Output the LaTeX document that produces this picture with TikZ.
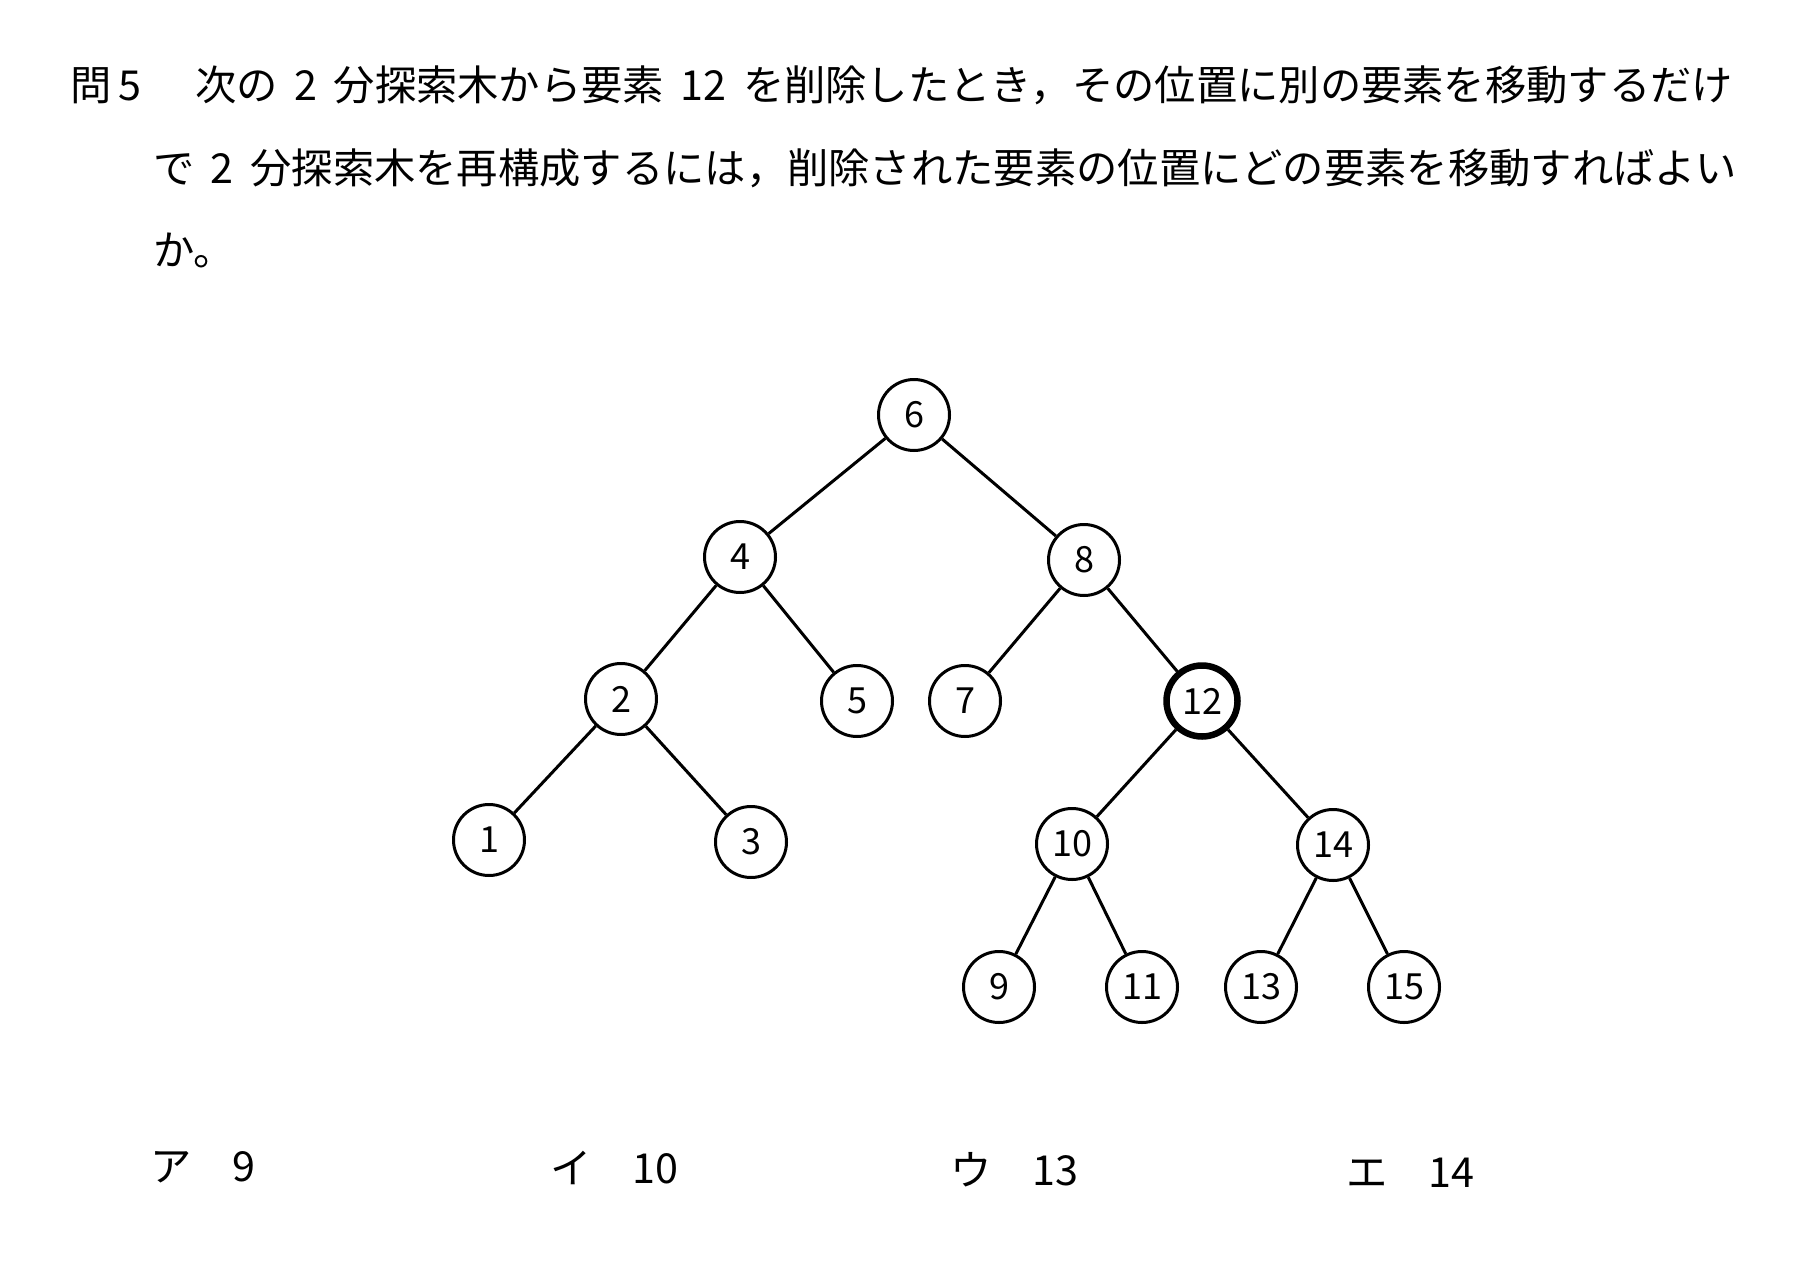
\documentclass[tikz,border=0pt]{standalone}
\usepackage{fontspec}
\newfontfamily\jpfont{Noto Sans CJK JP}
\usetikzlibrary{shapes}

\newcommand{\numgap}{\hspace{0.4em}}

\tikzset{
  elem/.style={draw,shape=circle,line width=3pt,minimum size=71pt,inner sep=0pt,
    font=\jpfont\fontsize{36}{36}\selectfont},
  removed/.style={elem,line width=6.5pt},
  link/.style={line width=3pt},
  sentence/.style={anchor=base west,inner sep=0pt,
    font=\jpfont\fontsize{41.3}{50}\selectfont},
}

\begin{document}
\begin{tikzpicture}[x=1pt,y=-1pt]
\useasboundingbox (0,0) rectangle (1809,1287);

% question
\node (qnum) at (70,101) [sentence] {問\hspace{0.18em}5};
\node (linea) at (195,101) [sentence] {次の\numgap 2\numgap 分探索木から要素\numgap 12\numgap を削除したとき，その位置に別の要素を移動するだけ};
\node (lineb) at (153,183) [sentence] {で\numgap 2\numgap 分探索木を再構成するには，削除された要素の位置にどの要素を移動すればよい};
\node (linec) at (153,265) [sentence] {か。};

% tree
\node (elem6) at (914,415) [elem] {6};
\node (elem4) at (740,557) [elem] {4};
\node (elem8) at (1084,560) [elem] {8};
\node (elem2) at (621,699) [elem] {2};
\node (elem5) at (857,701) [elem] {5};
\node (elem7) at (965,701) [elem] {7};
\node (elem12) at (1202,701) [removed] {12};
\node (elem1) at (489,840) [elem] {1};
\node (elem3) at (751,842) [elem] {3};
\node (elem10) at (1072,844) [elem] {10};
\node (elem14) at (1333,845) [elem] {14};
\node (elem9) at (999,987) [elem] {9};
\node (elem11) at (1142,987) [elem] {11};
\node (elem13) at (1261,987) [elem] {13};
\node (elem15) at (1404,987) [elem] {15};

\draw [link] (elem6) -- (elem4);
\draw [link] (elem6) -- (elem8);
\draw [link] (elem4) -- (elem2);
\draw [link] (elem4) -- (elem5);
\draw [link] (elem2) -- (elem1);
\draw [link] (elem2) -- (elem3);
\draw [link] (elem8) -- (elem7);
\draw [link] (elem8) -- (elem12);
\draw [link] (elem12) -- (elem10);
\draw [link] (elem12) -- (elem14);
\draw [link] (elem10) -- (elem9);
\draw [link] (elem10) -- (elem11);
\draw [link] (elem14) -- (elem13);
\draw [link] (elem14) -- (elem15);

% choices
\node (choicea) at (150,1181) [sentence] {ア　9};
\node (choiceb) at (550,1183) [sentence] {イ　10};
\node (choicec) at (950,1185) [sentence] {ウ　13};
\node (choiced) at (1346,1187) [sentence] {エ　14};
\end{tikzpicture}
\end{document}
